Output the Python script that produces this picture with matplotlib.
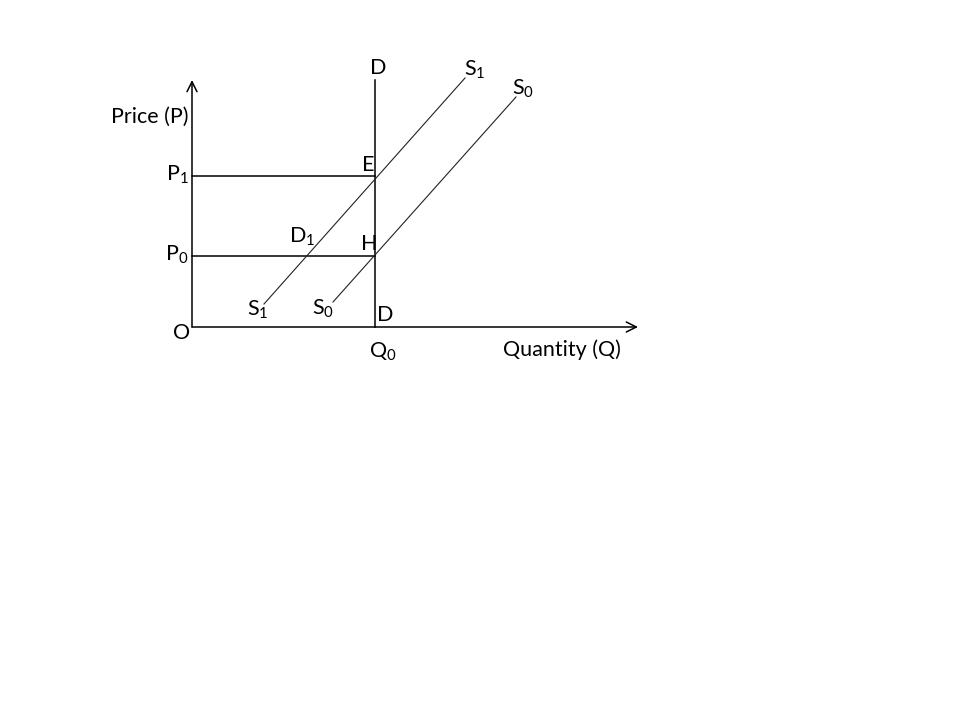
import matplotlib.pyplot as plt

plt.rcParams['font.family'] = ['Lato', 'DejaVu Sans']
plt.rcParams['mathtext.fontset'] = 'custom'
plt.rcParams['mathtext.rm'] = 'Lato'
plt.rcParams['mathtext.default'] = 'regular'

# diagram values, origin O at (0, 0)
q_max = 446
p_max = 247
q0 = 183
p0 = 71
p1 = 151
s1_q = [72, 273]
s1_p = [23, 249]
s0_q = [141, 324]
s0_p = [25, 230]

labels = ['D', 'S$_1$', 'S$_0$', 'Price (P)', 'P$_1$', 'E', 'D$_1$', 'H',
          'P$_0$', 'S$_1$', 'S$_0$', 'D', 'O', 'Q$_0$', 'Quantity (Q)']
label_q = [186, 283, 331, -42, -15, 176, 110, 177,
           -15, 66, 131, 193, -10, 191, 370]
label_p = [259, 257, 238, 210, 152, 162, 90, 83,
           72, 17, 18, 12, -6, -25, -23]

fig = plt.figure(figsize=(9.6, 7.2), dpi=100)
ax = fig.add_axes([0, 0, 1, 1])
ax.set_xlim(-192, 768)
ax.set_ylim(-393, 327)
ax.axis('off')

# axes with open arrow heads
ax.annotate('', xy=(q_max, 0), xytext=(0, 0),
            arrowprops=dict(arrowstyle='->', lw=1.1, color='black',
                            shrinkA=0, shrinkB=0, mutation_scale=18))
ax.annotate('', xy=(0, p_max), xytext=(0, 0),
            arrowprops=dict(arrowstyle='->', lw=1.1, color='black',
                            shrinkA=0, shrinkB=0, mutation_scale=18))

# vertical demand D and price lines
ax.plot([q0, q0], [0, p_max], color='black', lw=1.1)
ax.plot([0, q0], [p1, p1], color='black', lw=1.1)
ax.plot([0, q0], [p0, p0], color='black', lw=1.1)

# supply curves
ax.plot(s1_q, s1_p, color='#222222', lw=0.8)
ax.plot(s0_q, s0_p, color='#222222', lw=0.8)

for t, x, y in zip(labels, label_q, label_p):
    ax.text(x, y, t, fontsize=15.5, ha='center', va='center', color='black')

fig.savefig('out.png', dpi=100)
